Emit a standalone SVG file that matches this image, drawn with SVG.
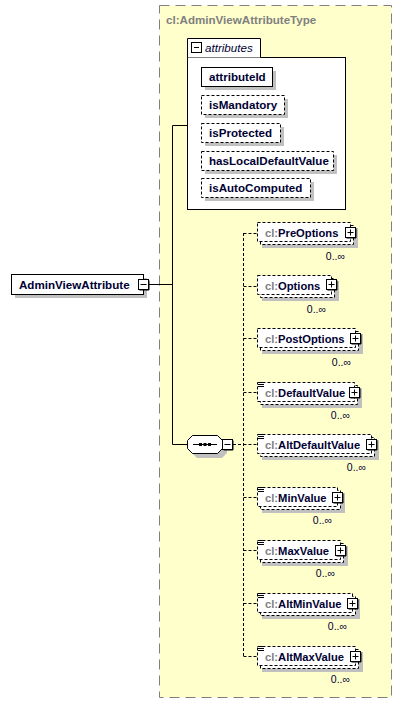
<svg xmlns="http://www.w3.org/2000/svg" width="403" height="704" viewBox="0 0 403 704">
<style>
text{font-family:"Liberation Sans",Arial,sans-serif;font-size:11.6px;font-weight:bold;fill:#000033}
.el{font-size:11.2px}
.ns{fill:#808080}
.occ{font-weight:normal;font-size:10.5px;fill:#000033}
.sh{fill:#c0c0c0;stroke:none}
.box{fill:#fff;stroke:#000;stroke-width:1}
.dbox{fill:#fff;stroke:#000;stroke-width:1;stroke-dasharray:3,2}
.btn{fill:#fff;stroke:#000;stroke-width:1}
.sign{stroke:#000;stroke-width:1;fill:none}
.con{stroke:#000;stroke-width:1;fill:none}
.dcon{stroke:#000;stroke-width:1;fill:none;stroke-dasharray:3,2}
</style>
<defs>
<g id="plus"><rect class="btn" x="-5" y="-5" width="10" height="10"/><path class="sign" d="M-3,0H3M0,-3V3"/><path d="M5.5,-4V5.5H-4" stroke="#000" fill="none"/></g>
<g id="minus"><rect class="btn" x="-5" y="-5" width="10" height="10"/><path class="sign" d="M-3,0H3"/><path d="M5.5,-4V5.5H-4" stroke="#000" fill="none"/></g>
<g id="simple"><path d="M1,1.5h6M1,3.5h6M1,5.5h6" stroke="#000" stroke-width="1" fill="none"/></g>
</defs>

<g id="container">
<rect x="159.5" y="5.5" width="232" height="692" fill="#ffffcc" stroke="#808080" stroke-dasharray="10,6"/>
<text class="ns" x="166" y="24">cl:AdminViewAttributeType</text>
</g>

<g id="connectors">
<path class="con" d="M149,284.5H172.5M172.5,125.5V444.5M172.5,125.5H187M172.5,444.5H187"/>
<path class="dcon" d="M233,444.5H243.5M243.5,233V656.5M243.5,233.5H257M243.5,286.5H257M243.5,338.5H257M243.5,392.5H257M243.5,444.5H257M243.5,497.5H257M243.5,550.5H257M243.5,603.5H257M243.5,656.5H257"/>
</g>

<g id="AdminViewAttribute">
<rect class="sh" x="15" y="278" width="132" height="20"/>
<rect class="box" x="11.5" y="274.5" width="132" height="20"/>
<text x="19" y="288.5">AdminViewAttribute</text>
<use href="#minus" x="143.5" y="284.5"/>
</g>

<g id="attributes">
<rect class="box" x="187.5" y="57.5" width="158" height="152"/>
<path d="M187.5,57.5V38.5H260.5V57.5" fill="#fff" stroke="#000"/>
<rect class="btn" x="191.5" y="42.5" width="10" height="10"/>
<path class="sign" d="M194,47.5H199"/>
<text x="205" y="51.5" style="font-weight:normal;font-style:italic">attributes</text>
</g>
<g id="attributeId">
<rect class="sh" x="205" y="71" width="71" height="19"/>
<rect class="box" x="201.5" y="67.5" width="71" height="19"/>
<text x="209" y="81">attributeId</text>
</g>
<g id="isMandatory">
<rect class="sh" x="205" y="99" width="83" height="19"/>
<rect class="dbox" x="201.5" y="95.5" width="83" height="19"/>
<text x="209" y="109">isMandatory</text>
</g>
<g id="isProtected">
<rect class="sh" x="205" y="127" width="79" height="19"/>
<rect class="dbox" x="201.5" y="123.5" width="79" height="19"/>
<text x="209" y="137">isProtected</text>
</g>
<g id="hasLocalDefaultValue">
<rect class="sh" x="205" y="155" width="132" height="19"/>
<rect class="dbox" x="201.5" y="151.5" width="132" height="19"/>
<text x="209" y="165">hasLocalDefaultValue</text>
</g>
<g id="isAutoComputed">
<rect class="sh" x="205" y="182" width="109" height="19"/>
<rect class="dbox" x="201.5" y="178.5" width="109" height="19"/>
<text x="209" y="192">isAutoComputed</text>
</g>

<g id="sequence">
<path class="sh" d="M197,440H222L227,445V453L222,458H197L192,453V445Z"/>
<path d="M192.5,435.5H217.5L222.5,440.5V448.5L217.5,453.5H192.5L187.5,448.5V440.5Z" fill="#fff" stroke="#000"/>
<path d="M193,444.5H217" stroke="#000"/>
<rect x="199" y="443" width="3" height="3" fill="#000"/>
<rect x="203.5" y="443" width="3" height="3" fill="#000"/>
<rect x="208" y="443" width="3" height="3" fill="#000"/>
<use href="#minus" x="227.5" y="444.5"/>
</g>

<g id="PreOptions">
<rect class="sh" x="262" y="228" width="96" height="20"/>
<rect class="dbox" x="260.5" y="225.5" width="93" height="19"/>
<rect class="dbox" x="257.5" y="222.5" width="93" height="19"/>
<text class="el" x="265" y="237"><tspan class="ns">cl:</tspan>PreOptions</text>
<use href="#plus" x="350.5" y="232.5"/>
<text class="occ" x="345" y="260" text-anchor="end">0..∞</text>
</g>
<g id="Options">
<rect class="sh" x="262" y="281" width="77" height="20"/>
<rect class="dbox" x="260.5" y="278.5" width="74" height="19"/>
<rect class="dbox" x="257.5" y="275.5" width="74" height="19"/>
<text class="el" x="265" y="290"><tspan class="ns">cl:</tspan>Options</text>
<use href="#plus" x="331.5" y="284.5"/>
<text class="occ" x="326" y="313" text-anchor="end">0..∞</text>
</g>
<g id="PostOptions">
<rect class="sh" x="262" y="334" width="101" height="20"/>
<rect class="dbox" x="260.5" y="331.5" width="98" height="19"/>
<rect class="dbox" x="257.5" y="328.5" width="98" height="19"/>
<text class="el" x="265" y="343"><tspan class="ns">cl:</tspan>PostOptions</text>
<use href="#plus" x="355.5" y="338.5"/>
<text class="occ" x="351" y="366" text-anchor="end">0..∞</text>
</g>
<g id="DefaultValue">
<rect class="sh" x="262" y="388" width="100" height="20"/>
<rect class="dbox" x="260.5" y="385.5" width="97" height="19"/>
<rect class="dbox" x="257.5" y="382.5" width="97" height="19"/>
<use href="#simple" x="257" y="381"/>
<text class="el" x="265" y="397"><tspan class="ns">cl:</tspan>DefaultValue</text>
<use href="#plus" x="354.5" y="392.5"/>
<text class="occ" x="350" y="419" text-anchor="end">0..∞</text>
</g>
<g id="AltDefaultValue">
<rect class="sh" x="262" y="440" width="117" height="20"/>
<rect class="dbox" x="260.5" y="437.5" width="114" height="19"/>
<rect class="dbox" x="257.5" y="434.5" width="114" height="19"/>
<use href="#simple" x="257" y="433"/>
<text class="el" x="265" y="449"><tspan class="ns">cl:</tspan>AltDefaultValue</text>
<use href="#plus" x="371.5" y="444.5"/>
<text class="occ" x="366" y="471" text-anchor="end">0..∞</text>
</g>
<g id="MinValue">
<rect class="sh" x="262" y="493" width="83" height="20"/>
<rect class="dbox" x="260.5" y="490.5" width="80" height="19"/>
<rect class="dbox" x="257.5" y="487.5" width="80" height="19"/>
<use href="#simple" x="257" y="486"/>
<text class="el" x="265" y="502"><tspan class="ns">cl:</tspan>MinValue</text>
<use href="#plus" x="337.5" y="497.5"/>
<text class="occ" x="332" y="524" text-anchor="end">0..∞</text>
</g>
<g id="MaxValue">
<rect class="sh" x="262" y="546" width="86" height="20"/>
<rect class="dbox" x="260.5" y="543.5" width="83" height="19"/>
<rect class="dbox" x="257.5" y="540.5" width="83" height="19"/>
<use href="#simple" x="257" y="539"/>
<text class="el" x="265" y="555"><tspan class="ns">cl:</tspan>MaxValue</text>
<use href="#plus" x="340.5" y="550.5"/>
<text class="occ" x="335" y="577" text-anchor="end">0..∞</text>
</g>
<g id="AltMinValue">
<rect class="sh" x="262" y="599" width="98" height="20"/>
<rect class="dbox" x="260.5" y="596.5" width="95" height="19"/>
<rect class="dbox" x="257.5" y="593.5" width="95" height="19"/>
<use href="#simple" x="257" y="592"/>
<text class="el" x="265" y="608"><tspan class="ns">cl:</tspan>AltMinValue</text>
<use href="#plus" x="352.5" y="603.5"/>
<text class="occ" x="347" y="630" text-anchor="end">0..∞</text>
</g>
<g id="AltMaxValue">
<rect class="sh" x="262" y="652" width="101" height="20"/>
<rect class="dbox" x="260.5" y="649.5" width="98" height="19"/>
<rect class="dbox" x="257.5" y="646.5" width="98" height="19"/>
<use href="#simple" x="257" y="645"/>
<text class="el" x="265" y="661"><tspan class="ns">cl:</tspan>AltMaxValue</text>
<use href="#plus" x="355.5" y="656.5"/>
<text class="occ" x="350" y="683" text-anchor="end">0..∞</text>
</g>
</svg>
